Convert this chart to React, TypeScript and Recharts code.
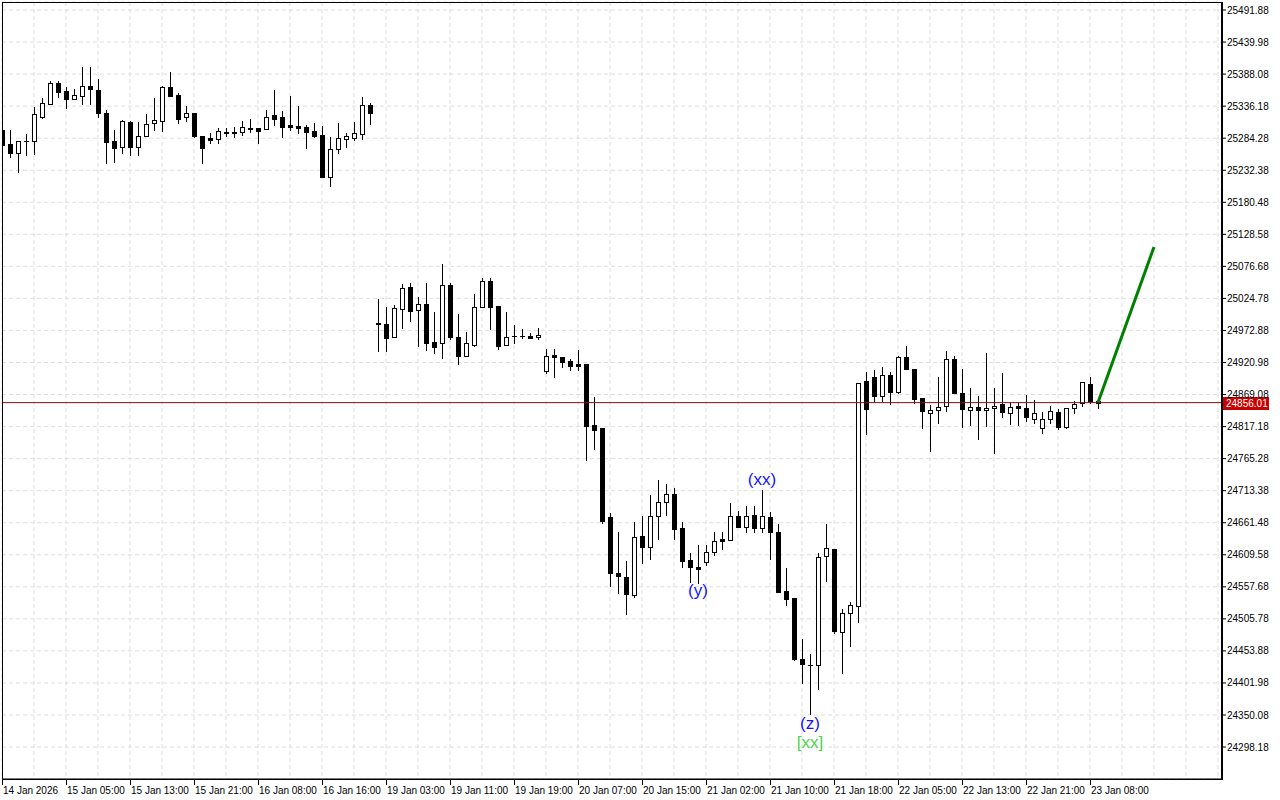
import React from 'react';
import { ComposedChart, Bar, Line, XAxis, YAxis, CartesianGrid, ReferenceLine, ReferenceDot } from 'recharts';

const FONT = '"Liberation Sans", Arial, sans-serif';
const PLOT_BOTTOM = 779;

// one label every 8 hourly bars, starting at bar 0
const timeLabels = [
  '14 Jan 2026', '15 Jan 05:00', '15 Jan 13:00', '15 Jan 21:00', '16 Jan 08:00', '16 Jan 16:00',
  '19 Jan 03:00', '19 Jan 11:00', '19 Jan 19:00', '20 Jan 07:00', '20 Jan 15:00', '21 Jan 02:00',
  '21 Jan 10:00', '21 Jan 18:00', '22 Jan 05:00', '22 Jan 13:00', '22 Jan 21:00', '23 Jan 08:00',
];

const priceTicks = [
  25491.88, 25439.98, 25388.08, 25336.18, 25284.28, 25232.38, 25180.48, 25128.58,
  25076.68, 25024.78, 24972.88, 24920.98, 24869.08, 24817.18, 24765.28, 24713.38,
  24661.48, 24609.58, 24557.68, 24505.78, 24453.88, 24401.98, 24350.08, 24298.18,
];

const opens = [
  25298, 25275, 25260, 25279, 25280, 25319, 25340, 25374, 25361, 25348, 25353, 25369, 25362, 25325, 25280, 25270,
  25311, 25270, 25288, 25309, 25312, 25367, 25354, 25319, 25325, 25288, 25284, 25283, 25295, 25294, 25294, 25301,
  25301, 25299, 25322, 25319, 25306, 25304, 25302, 25296, 25289, 25221, 25267, 25283, 25285, 25291, 25338,
  24984, 24983, 24962, 25008, 25043, 25006, 25016, 24954, 24953, 25047, 24962, 24932, 24949, 25011, 25053, 25013,
  24949, 24964, 24964, 24964, 24962, 24907, 24933, 24930, 24923, 24919,
  24919, 24820, 24815, 24671, 24580, 24574, 24544, 24640, 24622, 24672, 24695, 24708, 24653, 24601, 24590, 24598,
  24614, 24635, 24634, 24672, 24655, 24674, 24653, 24671, 24646, 24551, 24540, 24441, 24431, 24431, 24608, 24619,
  24484, 24515, 24527,
  24891, 24898, 24867, 24901, 24873, 24930, 24910, 24863, 24839, 24844, 24851, 24927, 24872, 24844, 24849, 24844,
  24847, 24854, 24839, 24851, 24847, 24829, 24815, 24829, 24841, 24817, 24847, 24855, 24886, 24858,
];
const highs = [
  25301, 25298, 25280, 25291, 25335, 25349, 25377, 25377, 25367, 25364, 25400, 25400, 25380, 25330, 25298, 25314,
  25312, 25311, 25324, 25349, 25369, 25392, 25358, 25336, 25325, 25288, 25293, 25301, 25301, 25302, 25312, 25315,
  25301, 25330, 25362, 25328, 25353, 25336, 25306, 25309, 25304, 25286, 25309, 25293, 25311, 25351, 25341,
  25024, 25011, 25014, 25048, 25050, 25027, 25050, 25003, 25081, 25050, 25000, 24970, 25032, 25058, 25058, 25013,
  25003, 24982, 24975, 24969, 24977, 24943, 24943, 24930, 24927, 24941,
  24919, 24865, 24815, 24677, 24646, 24599, 24663, 24672, 24706, 24731, 24724, 24718, 24663, 24612, 24625, 24625,
  24646, 24646, 24693, 24680, 24689, 24689, 24714, 24679, 24659, 24588, 24540, 24473, 24449, 24612, 24659, 24619,
  24522, 24533, 24888,
  24906, 24909, 24914, 24906, 24932, 24948, 24910, 24863, 24852, 24898, 24940, 24932, 24910, 24880, 24867, 24936,
  24880, 24904, 24855, 24857, 24868, 24860, 24841, 24851, 24846, 24847, 24859, 24889, 24898, 24858,
];
const lows = [
  25262, 25254, 25230, 25257, 25259, 25317, 25340, 25351, 25333, 25347, 25340, 25340, 25319, 25244, 25246, 25260,
  25257, 25257, 25288, 25298, 25296, 25352, 25309, 25312, 25286, 25244, 25277, 25277, 25288, 25286, 25289, 25294,
  25276, 25299, 25306, 25286, 25298, 25293, 25268, 25286, 25221, 25207, 25260, 25270, 25281, 25283, 25307,
  24940, 24940, 24962, 24977, 24988, 24948, 24941, 24936, 24928, 24959, 24919, 24932, 24948, 25011, 24975, 24943,
  24949, 24953, 24961, 24961, 24959, 24904, 24898, 24914, 24909, 24909,
  24763, 24781, 24661, 24559, 24548, 24514, 24541, 24596, 24603, 24635, 24674, 24635, 24590, 24565, 24564, 24593,
  24609, 24619, 24634, 24655, 24646, 24646, 24646, 24603, 24549, 24528, 24439, 24402, 24352, 24392, 24567, 24483,
  24418, 24462, 24501,
  24805, 24857, 24859, 24854, 24872, 24910, 24855, 24815, 24778, 24823, 24842, 24872, 24817, 24820, 24797, 24818,
  24774, 24833, 24821, 24820, 24826, 24823, 24807, 24823, 24813, 24815, 24839, 24851, 24855, 24847,
];
const closes = [
  25273, 25260, 25280, 25280, 25324, 25341, 25374, 25359, 25348, 25354, 25369, 25364, 25325, 25278, 25268, 25312,
  25270, 25288, 25307, 25314, 25367, 25353, 25315, 25325, 25288, 25268, 25282, 25296, 25293, 25293, 25302, 25299,
  25296, 25319, 25315, 25302, 25302, 25301, 25294, 25288, 25221, 25267, 25285, 25288, 25293, 25338, 25325,
  24985, 24961, 25009, 25042, 25004, 25016, 24953, 24946, 25047, 24962, 24932, 24953, 25011, 25053, 25011, 24948,
  24962, 24964, 24964, 24961, 24966, 24932, 24930, 24922, 24915, 24915,
  24818, 24812, 24664, 24580, 24575, 24546, 24638, 24622, 24672, 24695, 24708, 24651, 24599, 24590, 24587, 24614,
  24632, 24632, 24672, 24655, 24672, 24653, 24672, 24646, 24549, 24538, 24441, 24433, 24431, 24606, 24621, 24486,
  24515, 24528, 24888,
  24846, 24867, 24901, 24873, 24930, 24910, 24862, 24842, 24844, 24849, 24927, 24872, 24846, 24849, 24844, 24847,
  24851, 24841, 24849, 24847, 24833, 24839, 24829, 24842, 24817, 24847, 24854, 24889, 24859, 24856,
];

const lastPrice = 24856.01;

const forecast = [
  { i: 137, price: 24856.01 },
  { i: 144, price: 25108 },
];

const waveLabels = [
  { bar: 87, price: 24551, text: '(y)' },
  { bar: 95, price: 24731, text: '(xx)' },
  { bar: 101, price: 24337, text: '(z)' },
];
const degreeLabels = [{ bar: 101, price: 24306, text: '[xx]' }];

const candles = opens.map((open, i) => ({ i, open, high: highs[i], low: lows[i], close: closes[i] }));
const gridTicks = Array.from({ length: 39 }, (_, k) => k * 4);

const Candle = (props: any) => {
  const { x, y, width, height, payload } = props;
  if (!payload || payload.high == null) return null;
  const { open, high, low, close } = payload;
  const k = high - low > 0 ? Math.abs(height) / (high - low) : 0;
  const top = Math.min(y, y + height);
  const py = (v: number) => Math.round(top + (high - v) * k);
  const cx = Math.round(x + width / 2);
  const bull = close >= open;
  const bTop = py(Math.max(open, close));
  const bBot = py(Math.min(open, close));
  let body;
  if (bBot - bTop < 2) {
    body = <rect x={cx - 2} y={bTop} width={5} height={Math.max(1, bBot - bTop + 1)} fill="#000" />;
  } else if (bull) {
    body = <rect x={cx - 1.5} y={bTop + 0.5} width={4} height={bBot - bTop} fill="#fff" stroke="#000" />;
  } else {
    body = <rect x={cx - 2} y={bTop} width={5} height={bBot - bTop + 1} fill="#000" />;
  }
  return (
    <g>
      <line x1={cx + 0.5} x2={cx + 0.5} y1={py(high)} y2={py(low) + 1} stroke="#000" />
      {body}
    </g>
  );
};

const TimeTick = (props: any) => {
  const { x, payload } = props;
  const idx = payload.value;
  const label = idx % 8 === 0 ? timeLabels[idx / 8] : undefined;
  if (!label) return <g />;
  return (
    <g>
      <line x1={x + 0.5} x2={x + 0.5} y1={PLOT_BOTTOM} y2={PLOT_BOTTOM + 6} stroke="#000" />
      <text x={x + 1} y={PLOT_BOTTOM + 15} fontSize={10} fontFamily={FONT} fill="#000">
        {label}
      </text>
    </g>
  );
};

const PriceTag = (props: any) => {
  const { viewBox } = props;
  if (!viewBox) return null;
  const x = viewBox.x + viewBox.width + 1;
  const y = Math.round(viewBox.y);
  return (
    <g>
      <rect x={x} y={y - 6} width={46} height={13} fill="#c80000" />
      <text x={x + 3} y={y + 4} fill="#fff" fontSize={10} fontFamily={FONT}>
        {lastPrice.toFixed(2)}
      </text>
    </g>
  );
};

export default function App() {
  return (
    <div style={{ position: 'absolute', left: 0, top: 0, width: 1280, height: 800, background: '#fff' }}>
      <ComposedChart
        width={1280}
        height={800}
        data={candles}
        margin={{ top: 2, right: 0, bottom: 0, left: 2 }}
        style={{ fontFamily: FONT }}
      >
        <CartesianGrid stroke="#dedede" strokeDasharray="4 3" />
        <XAxis
          type="number"
          dataKey="i"
          domain={[0, 152.5]}
          allowDataOverflow
          ticks={gridTicks}
          interval={0}
          height={21}
          tickLine={false}
          axisLine={{ stroke: '#000' }}
          tick={(p: any) => <TimeTick {...p} />}
        />
        <YAxis
          orientation="right"
          type="number"
          domain={[24246.4, 25504.86]}
          allowDataOverflow
          ticks={priceTicks}
          interval={0}
          width={58}
          tickSize={4}
          tickMargin={1}
          tickFormatter={(v: number) => v.toFixed(2)}
          tick={{ fill: '#000', fontSize: 10, fontFamily: FONT }}
          tickLine={{ stroke: '#000' }}
          axisLine={{ stroke: '#000', strokeWidth: 2 }}
        />
        <Bar
          dataKey={(d: any) => [d.low, d.high]}
          barSize={5}
          shape={(p: any) => <Candle {...p} />}
          isAnimationActive={false}
        />
        <ReferenceLine y={lastPrice} stroke="#8a1010" label={(p: any) => <PriceTag {...p} />} />
        <Line
          data={forecast}
          dataKey="price"
          stroke="#008000"
          strokeWidth={3}
          dot={false}
          isAnimationActive={false}
        />
        {waveLabels.map((w) => (
          <ReferenceDot
            key={w.text}
            x={w.bar}
            y={w.price}
            r={0}
            shape={(p: any) => (
              <text x={p.cx} y={p.cy} textAnchor="middle" dominantBaseline="central" fontSize={17} fontFamily={FONT} fill="#1414ff">
                {w.text}
              </text>
            )}
          />
        ))}
        {degreeLabels.map((w) => (
          <ReferenceDot
            key={w.text}
            x={w.bar}
            y={w.price}
            r={0}
            shape={(p: any) => (
              <text x={p.cx} y={p.cy} textAnchor="middle" dominantBaseline="central" fontSize={17} fontFamily={FONT} fill="#4cd44c">
                {w.text}
              </text>
            )}
          />
        ))}
      </ComposedChart>
      <div
        style={{
          position: 'absolute',
          left: 2,
          top: 2,
          width: 1221,
          height: 778,
          border: '1px solid #000',
          boxSizing: 'border-box',
          pointerEvents: 'none',
        }}
      />
    </div>
  );
}
